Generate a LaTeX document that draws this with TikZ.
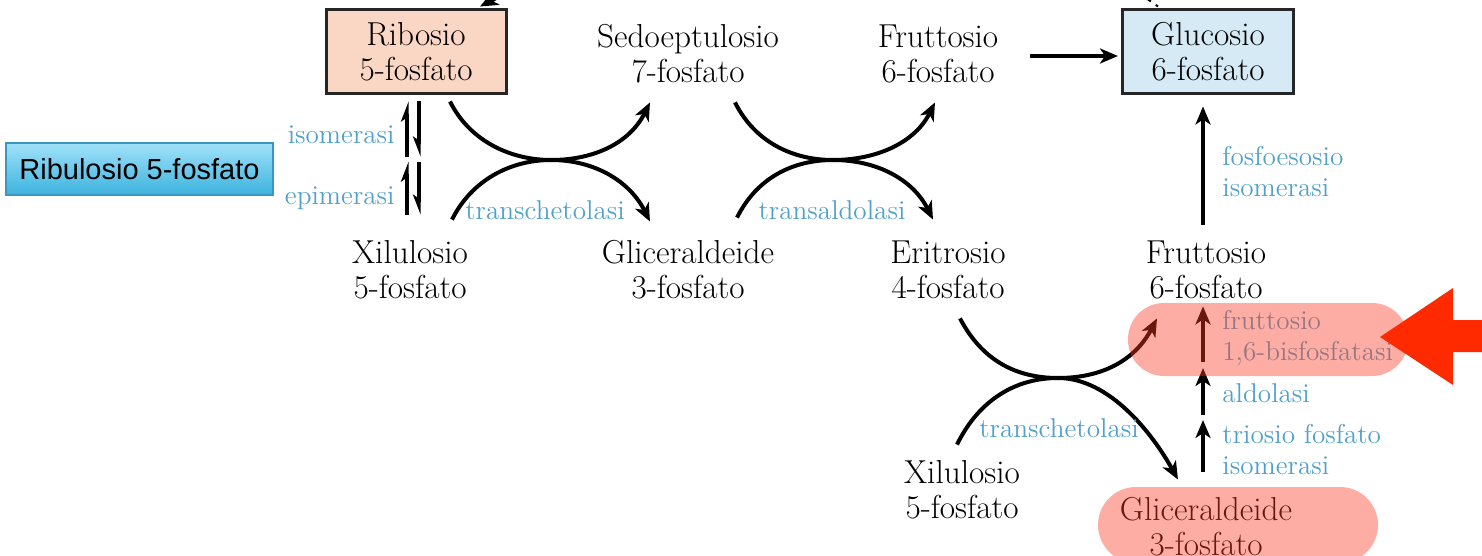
\documentclass[tikz,border=0pt]{standalone}
\usepackage{fontspec}
\newfontfamily\arialfont{Liberation Sans}
\usetikzlibrary{arrows.meta,calc}

\definecolor{enzyme}{RGB}{80,160,200}
\definecolor{peach}{RGB}{250,214,196}
\definecolor{paleblue}{RGB}{214,234,246}
\definecolor{hilite}{RGB}{250,60,35}
\definecolor{pointer}{RGB}{255,42,0}
\definecolor{ribtop}{RGB}{160,226,250}
\definecolor{ribbot}{RGB}{60,178,222}
\definecolor{ribedge}{RGB}{60,150,190}

\begin{document}
\begin{tikzpicture}[x=0.5pt,y=-0.5pt,
  species/.style={align=center, inner sep=0pt, minimum width=90pt, minimum height=42pt,
    font=\fontsize{16.6}{17.5}\selectfont},
  boxed/.style={species, draw=black!85, line width=1.5pt},
  enz/.style={inner sep=0pt, text=enzyme, font=\fontsize{13.6}{15.5}\selectfont},
  flow/.style={line width=2pt, -{Stealth[length=9pt,width=7.5pt,inset=2.5pt]}},
  upharp/.style={line width=2pt, -{Stealth[harpoon,length=8pt,width=6pt,inset=2pt]}},
  downharp/.style={line width=2pt, -{Stealth[harpoon,swap,length=8pt,width=6pt,inset=2pt]}},
  hl/.style={fill=hilite, fill opacity=0.42, inner sep=0pt, minimum width=140pt}
]
\useasboundingbox (0,0) rectangle (1482,556);

% metabolites, top row
\node[boxed, fill=peach] (ribosio) at (416,52) {Ribosio\\5-fosfato};
\node[species] (sedo) at (688,54) {Sedoeptulosio\\7-fosfato};
\node[species] (frutt1) at (938,54) {Fruttosio\\6-fosfato};
\node[boxed, fill=paleblue, minimum width=85.5pt] (gluc) at (1208,52) {Glucosio\\6-fosfato};

% metabolites, second row
\node[species] (xil1) at (410,270) {Xilulosio\\5-fosfato};
\node[species] (glic1) at (688,270) {Gliceraldeide\\3-fosfato};
\node[species] (erit) at (948,270) {Eritrosio\\4-fosfato};
\node[species] (frutt2) at (1206,270) {Fruttosio\\6-fosfato};

% metabolites, bottom
\node[species] (xil2) at (962,490) {Xilulosio\\5-fosfato};
\node[species] (glic2) at (1206,527) {Gliceraldeide\\3-fosfato};

% starting point of the pathway
\node[draw=ribedge, line width=0.6pt, top color=ribtop, bottom color=ribbot,
      minimum width=133.5pt, minimum height=26pt, inner sep=0pt,
      font=\arialfont\fontsize{14.5}{17}\selectfont] (ribu) at (139.5,169) {Ribulosio 5-fosfato};

% incoming connectors at the top edge
\coordinate (offA) at (500,-4);
\draw[flow] (offA) -- ($(ribosio.north)+(64,-2)$);
\coordinate (offB) at (1146,-2);
\draw[line width=1pt, dashed] (offB) -- ($(gluc.north)+(-50,-2)$);

% isomerase / epimerase equilibria
\draw[upharp] ($(ribosio.south)+(-9,61)$) -- ($(ribosio.south)+(-9,6)$);
\draw[downharp] ($(ribosio.south)+(3,6)$) -- ($(ribosio.south)+(3,61)$);
\draw[upharp] ($(xil1.north)+(-3,-13)$) -- ($(xil1.north)+(-3,-66)$);
\draw[downharp] ($(xil1.north)+(9,-66)$) -- ($(xil1.north)+(9,-13)$);
\node[enz, anchor=east] (iso) at (395,135) {isomerasi};
\node[enz, anchor=east] (epi) at (395,198) {epimerasi};

% transketolase crossing
\coordinate (x1) at (551,160);
\draw[flow] ($(ribosio.south)+(34,6)$) .. controls +(20,40) and +(-40,0) .. (x1)
  .. controls +(44,0) and +(-20,40) .. ($(sedo.south)+(-38,6)$);
\draw[flow] ($(xil1.north)+(42,-8)$) .. controls +(20,-40) and +(-40,0) .. (x1)
  .. controls +(44,0) and +(-20,-40) .. ($(glic1.north)+(-38,-6)$);
\node[enz] (tk1) at (545,210) {transchetolasi};

% transaldolase crossing
\coordinate (x2) at (833,160);
\draw[flow] ($(sedo.south)+(47,6)$) .. controls +(20,40) and +(-40,0) .. (x2)
  .. controls +(44,0) and +(-20,40) .. ($(frutt1.south)+(-3,6)$);
\draw[flow] ($(glic1.north)+(49,-10)$) .. controls +(20,-40) and +(-40,0) .. (x2)
  .. controls +(44,0) and +(-20,-40) .. ($(erit.north)+(-15,-8)$);
\node[enz] (ta) at (832,210) {transaldolasi};

% second transketolase crossing
\coordinate (x3) at (1058,378);
\draw[flow] ($(erit.south)+(12,6)$) .. controls +(22,42) and +(-42,0) .. (x3)
  .. controls +(44,0) and +(-22,42) .. ($(frutt2.south)+(-49,6)$);
\draw[flow] ($(xil2.north)+(-5,-3)$) .. controls +(22,-45) and +(-42,0) .. (x3)
  .. controls +(52,0) and +(-25,-45) .. ($(glic2.north)+(-28,-5)$);
\node[enz] (tk2) at (1059,428) {transchetolasi};

% gluconeogenic steps
\draw[flow] ($(frutt1.east)+(2,2)$) -- ($(gluc.west)+(-3,4)$);
\draw[flow] ($(frutt2.north)+(-3,-3)$) -- ($(gluc.south)+(-5,11)$);
\node[enz, anchor=west, align=left] (pgi) at (1222,172) {fosfoesosio\\isomerasi};

\coordinate (ald) at (1203,420);
\coordinate (fbpin) at (1203,368);
\draw[flow] ($(glic2.north)+(-3,-13)$) -- (ald);
\draw[flow] ($(ald)+(0,-5)$) -- (fbpin);
\draw[flow] ($(fbpin)+(0,-6)$) -- ($(frutt2.south)+(-3,-6)$);
\node[enz, anchor=west, align=left] (tpi) at (1222,450) {triosio fosfato\\isomerasi};
\node[enz, anchor=west] (aldo) at (1222,393) {aldolasi};
\node[enz, anchor=west, align=left] (fbpase) at (1222,338) {fruttosio\\1,6-bisfosfatasi};

% highlighted steps
\node[hl, rounded corners=18pt, minimum height=36.5pt] (hl1) at (1268,339.5) {};
\node[hl, rounded corners=19pt, minimum height=38pt] (hl2) at (1238,525) {};

% pointer
\fill[pointer] (1380,337) -- (1453,288) -- (1453,320) -- (1490,320) -- (1490,352)
  -- (1453,352) -- (1453,385) -- cycle;
\end{tikzpicture}
\end{document}
